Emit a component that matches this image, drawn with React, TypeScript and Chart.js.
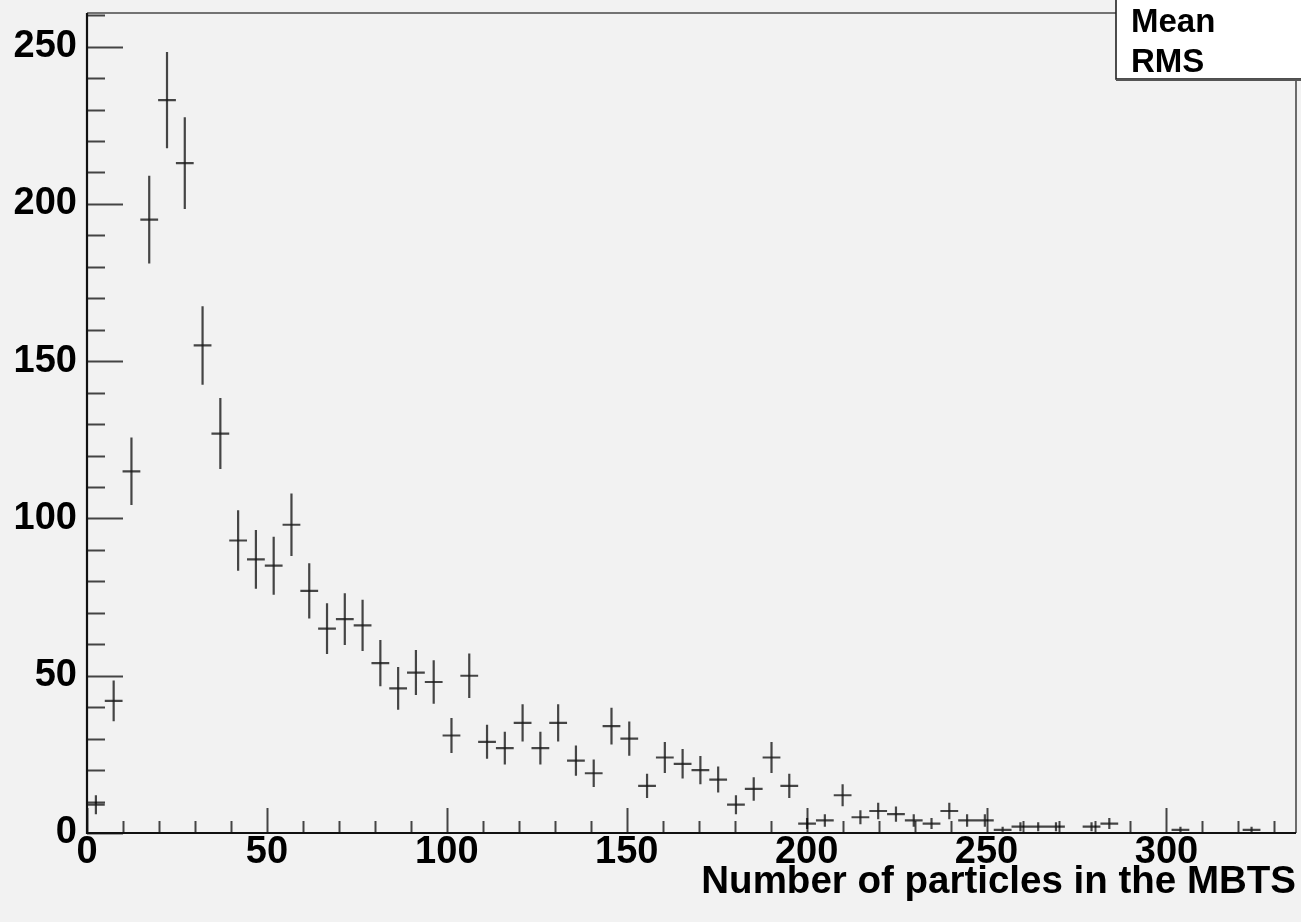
import React, { useEffect, useRef } from 'react';
import { Chart, registerables } from 'chart.js';

Chart.register(...registerables);

// ---- data ----
const binCounts = [
  9, 42, 115, 195, 233, 213, 155, 127, 93, 87,
  85, 98, 77, 65, 68, 66, 54, 46, 51, 48,
  31, 50, 29, 27, 35, 27, 35, 23, 19, 34,
  30, 15, 24, 22, 20, 17, 9, 14, 24, 15,
  3, 4, 12, 5, 7, 6, 4, 3, 7, 4,
  4, 1, 2, 2, 2, 0, 2, 3, 0, 0,
  0, 1, 0, 0, 0, 1, 0, 0,
];
const X_MIN = 0;
const X_MAX = 336;
const Y_MIN = 0;
const Y_MAX = 260.7;
const xTickValues = [0, 50, 100, 150, 200, 250, 300];
const yTickValues = [0, 50, 100, 150, 200, 250];
const xMinorStep = 10;
const yMinorStep = 10;
const xAxisTitle = 'Number of particles in the MBTS';
const statsLabels = ['Mean', 'RMS'];

const FONT = "'Liberation Sans', Arial, Helvetica, sans-serif";
const W = 1301;
const H = 922;

function buildErrorBars() {
  const binWidth = (X_MAX - X_MIN) / binCounts.length;
  const vert: any[] = [];
  const horiz: any[] = [];
  binCounts.forEach((n, i) => {
    if (n <= 0) return;
    const lo = X_MIN + i * binWidth;
    const hi = lo + binWidth;
    const c = (lo + hi) / 2;
    const e = Math.sqrt(n);
    vert.push({ x: c, y: n - e }, { x: c, y: n + e }, { x: c, y: null });
    horiz.push({ x: lo, y: n }, { x: hi, y: n }, { x: hi, y: null });
  });
  return { vert, horiz };
}

const rootStylePlugin = {
  id: 'rootStyle',
  beforeDraw(chart: any) {
    const { ctx } = chart;
    ctx.save();
    ctx.fillStyle = '#f2f2f2';
    ctx.fillRect(0, 0, chart.width, chart.height);
    ctx.restore();
  },
  afterDraw(chart: any) {
    const { ctx, chartArea } = chart;
    const xs = chart.scales.x;
    const ys = chart.scales.y;
    const { left, right, top, bottom } = chartArea;
    ctx.save();
    // frame top / right
    ctx.strokeStyle = '#4a4a4a';
    ctx.lineWidth = 1.6;
    ctx.beginPath();
    ctx.moveTo(left, top);
    ctx.lineTo(right, top);
    ctx.lineTo(right, bottom);
    ctx.stroke();
    // ticks
    ctx.strokeStyle = 'rgba(0,0,0,0.72)';
    ctx.lineWidth = 2;
    ctx.beginPath();
    for (let v = X_MIN; v <= X_MAX + 1e-9; v += xMinorStep) {
      const px = Math.round(xs.getPixelForValue(v)) + 0.5;
      const len = v % 50 === 0 ? 25 : 12;
      ctx.moveTo(px, bottom);
      ctx.lineTo(px, bottom - len);
    }
    for (let v = Y_MIN; v <= Y_MAX + 1e-9; v += yMinorStep) {
      const py = Math.round(ys.getPixelForValue(v)) + 0.5;
      const len = v % 50 === 0 ? 36 : 18;
      ctx.moveTo(left, py);
      ctx.lineTo(left + len, py);
    }
    ctx.stroke();
    // axes lines
    ctx.strokeStyle = '#111';
    ctx.lineWidth = 2.2;
    ctx.beginPath();
    ctx.moveTo(left, top);
    ctx.lineTo(left, bottom);
    ctx.lineTo(right, bottom);
    ctx.stroke();
    // stats box
    const bx = 1116;
    const by = -2;
    const bw = 200;
    const bh = 81;
    ctx.fillStyle = '#ffffff';
    ctx.fillRect(bx, by, bw, bh);
    ctx.strokeStyle = '#222';
    ctx.lineWidth = 1.6;
    ctx.strokeRect(bx, by, bw, bh);
    ctx.beginPath();
    ctx.lineWidth = 2;
    ctx.strokeStyle = '#555';
    ctx.moveTo(bx, by + bh + 1);
    ctx.lineTo(bx + bw, by + bh + 1);
    ctx.stroke();
    ctx.fillStyle = '#000';
    ctx.font = `bold 33px ${FONT}`;
    ctx.textAlign = 'left';
    ctx.textBaseline = 'alphabetic';
    ctx.fillText(statsLabels[0], 1131, 32);
    ctx.fillText(statsLabels[1], 1131, 72);
    ctx.restore();
  },
};

export default function App() {
  const ref = useRef<HTMLCanvasElement | null>(null);
  useEffect(() => {
    document.body.style.margin = '0';
    document.body.style.background = '#f2f2f2';
    const canvas = ref.current;
    if (!canvas) return;
    const { vert, horiz } = buildErrorBars();
    const lineStyle = {
      showLine: true,
      spanGaps: false,
      borderColor: 'rgba(25,25,25,0.8)',
      borderWidth: 2.2,
      pointRadius: 0,
      pointHoverRadius: 0,
      fill: false,
    };
    const chart = new Chart(canvas, {
      type: 'scatter',
      data: {
        datasets: [
          { label: 'err', data: vert, ...lineStyle },
          { label: 'bin', data: horiz, ...lineStyle },
        ],
      },
      plugins: [rootStylePlugin],
      options: {
        responsive: false,
        animation: false,
        devicePixelRatio: 1,
        layout: { padding: { top: 13, right: 5, left: 0, bottom: 0 } },
        plugins: { legend: { display: false }, tooltip: { enabled: false } },
        scales: {
          x: {
            type: 'linear',
            min: X_MIN,
            max: X_MAX,
            grid: { display: false, drawTicks: false },
            border: { display: false },
            afterBuildTicks: (s: any) => {
              s.ticks = xTickValues.map((v) => ({ value: v }));
            },
            afterFit: (s: any) => {
              s.height = 89;
              s.paddingLeft = 0;
              s.paddingRight = 0;
            },
            ticks: {
              autoSkip: false,
              maxRotation: 0,
              includeBounds: false,
              padding: -3,
              color: '#000',
              font: { family: FONT, size: 38, weight: 'bold' },
              callback: (v: any) => String(v),
            },
            title: {
              display: true,
              text: xAxisTitle,
              align: 'end',
              color: '#000',
              font: { family: FONT, size: 38.5, weight: 'bold' },
              padding: { top: 0, bottom: 17 },
            },
          },
          y: {
            type: 'linear',
            min: Y_MIN,
            max: Y_MAX,
            grid: { display: false, drawTicks: false },
            border: { display: false },
            afterBuildTicks: (s: any) => {
              s.ticks = yTickValues.map((v) => ({ value: v }));
            },
            afterFit: (s: any) => {
              s.width = 87;
              s.paddingTop = 0;
              s.paddingBottom = 0;
            },
            ticks: {
              autoSkip: false,
              includeBounds: false,
              padding: 10,
              color: '#000',
              font: { family: FONT, size: 38, weight: 'bold' },
              callback: (v: any) => String(v),
            },
          },
        },
      } as any,
    });
    return () => chart.destroy();
  }, []);
  return (
    <canvas
      ref={ref}
      width={W}
      height={H}
      style={{ display: 'block', width: W, height: H }}
    />
  );
}
